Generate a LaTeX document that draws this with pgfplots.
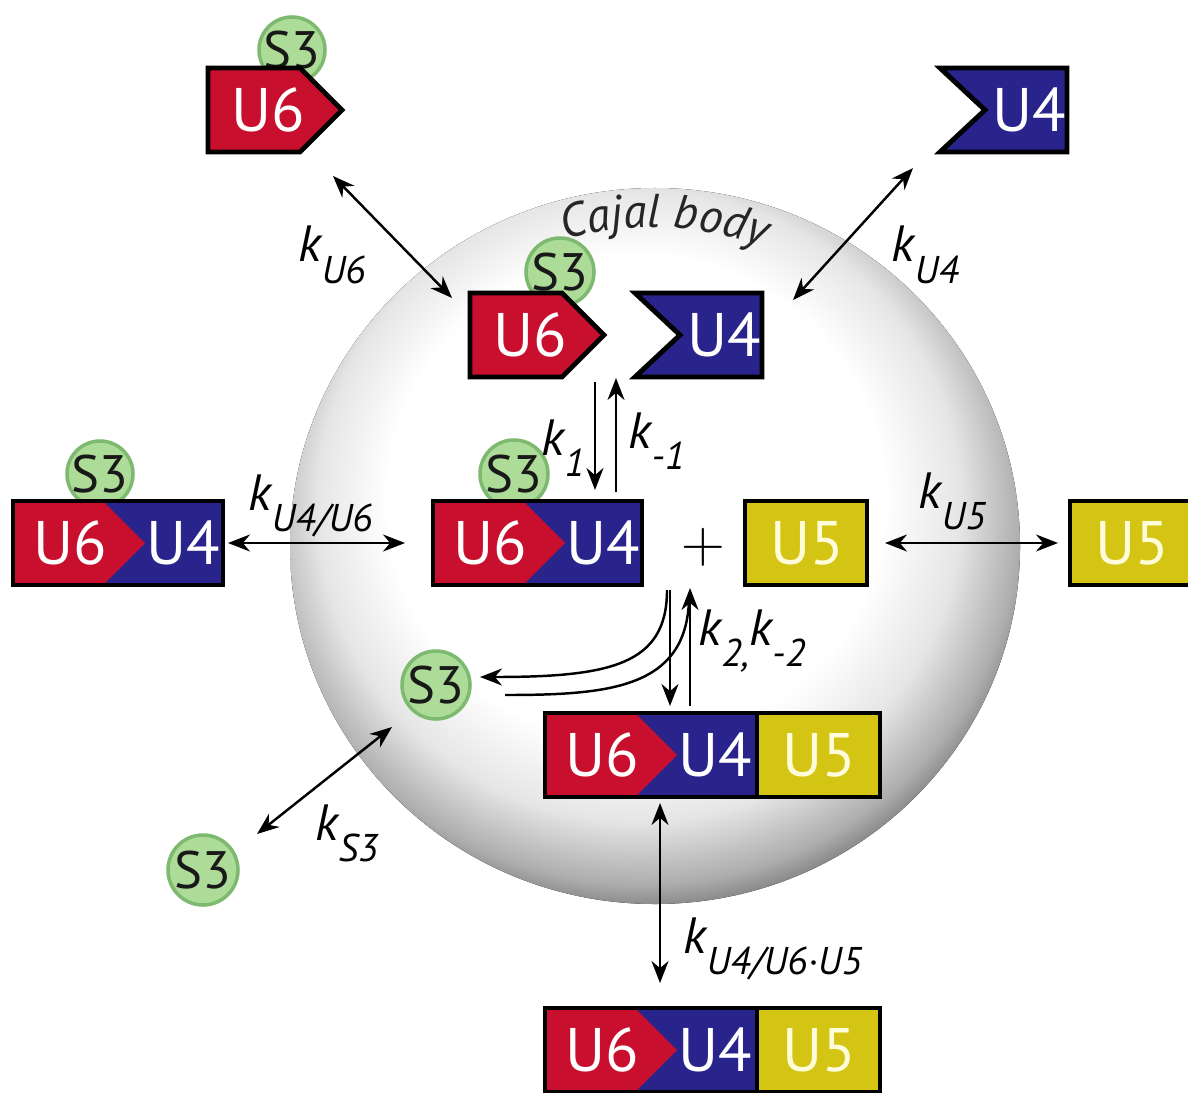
\documentclass[border=0pt]{standalone}
\usepackage{pgfplots}
\pgfplotsset{compat=1.18}
\usepackage{fontspec}
\setmainfont{PT Sans}
\usetikzlibrary{arrows.meta,decorations.text}

\definecolor{ured}{RGB}{200,16,46}
\definecolor{ublue}{RGB}{40,36,140}
\definecolor{uyel}{RGB}{212,196,20}
\definecolor{sgreen}{RGB}{172,220,152}
\definecolor{sedge}{RGB}{125,185,110}

% path edge sits at about 30bp of the shading
\pgfdeclareradialshading{cajal}{\pgfpoint{-2bp}{5bp}}{color(0bp)=(white); color(17bp)=(white); color(22bp)=(black!10); color(26bp)=(black!32); color(29bp)=(black!62); color(30.5bp)=(black!85); color(50bp)=(black!88)}

\tikzset{
  box/.style={draw=black, line width=1.4pt, line join=miter},
  ulab/.style={text=white, inner sep=0, font=\fontsize{17.5}{18}\selectfont},
  klab/.style={anchor=base west, inner sep=0, font=\itshape\fontsize{14.5}{15}\selectfont},
  arr/.style={line width=0.7pt, -{Stealth[length=2.2mm,width=1.7mm]}},
  darr/.style={line width=0.7pt, {Stealth[length=2.2mm,width=1.7mm]}-{Stealth[length=2.2mm,width=1.7mm]}}
}
\newcommand{\ksub}[1]{k\raisebox{-6pt}{\fontsize{11}{11}\selectfont #1}}

% S3 circle: x, y, radius (mm)
\newcommand{\sthree}[3]{%
  \draw[sedge, fill=sgreen, line width=1pt] (axis cs:#1,#2) circle[radius=#3mm];
  \node[inner sep=0, text=black!90, font=\fontsize{15}{15}\selectfont] at (axis cs:#1,#2) {S3};}
% free U6: top-left x, y
\newcommand{\usix}[2]{%
  \filldraw[box, fill=ured] (axis cs:#1,#2) -- (axis cs:#1+92,#2) -- (axis cs:#1+134,#2+42)
    -- (axis cs:#1+92,#2+84) -- (axis cs:#1,#2+84) -- cycle;
  \node[ulab] at (axis cs:#1+60,#2+42) {U6};}
% free U4: outer left x, y, right x
\newcommand{\ufour}[3]{%
  \filldraw[box, fill=ublue] (axis cs:#1,#2) -- (axis cs:#3,#2) -- (axis cs:#3,#2+84)
    -- (axis cs:#1,#2+84) -- (axis cs:#1+45,#2+42) -- cycle;
  \node[ulab] at (axis cs:#3-38,#2+42) {U4};}
% U5 box: left x, y, right x
\newcommand{\ufive}[3]{%
  \filldraw[box, fill=uyel] (axis cs:#1,#2) rectangle (axis cs:#3,#2+84);
  \node[ulab, text=white!85!yellow] at (axis cs:#1+62,#2+42) {U5};}
% U6/U4 complex: left x, y, right x
\newcommand{\cplx}[3]{%
  \fill[ublue] (axis cs:#1,#2) rectangle (axis cs:#3,#2+84);
  \fill[ured] (axis cs:#1,#2) -- (axis cs:#1+90,#2) -- (axis cs:#1+132,#2+42)
    -- (axis cs:#1+90,#2+84) -- (axis cs:#1,#2+84) -- cycle;
  \draw[box] (axis cs:#1,#2) rectangle (axis cs:#3,#2+84);
  \node[ulab] at (axis cs:#1+57,#2+42) {U6};
  \node[ulab] at (axis cs:#1+170,#2+42) {U4};}

\begin{document}
\begin{tikzpicture}
\begin{axis}[
  width=11.88cm, height=10.92cm, scale only axis,
  xmin=0, xmax=1188, ymin=0, ymax=1092, y dir=reverse,
  hide axis, clip=false]

% Cajal body
\fill[shading=cajal] (axis cs:655,546) ellipse[x radius=36.5mm, y radius=35.8mm];
\path[decorate, decoration={text along path, text align=center,
  text={|\itshape\fontsize{13.5}{14}\selectfont\color{black!85}|Cajal body}}]
  (axis cs:494,270) arc[start angle=120, end angle=56, radius=3.19cm];

% S3 circles (behind the snRNPs)
\sthree{292}{50}{3.3}
\sthree{560}{272}{3.4}
\sthree{100}{474}{3.3}
\sthree{514}{474}{3.4}
\sthree{436}{685}{3.4}
\sthree{203}{870}{3.5}

% snRNPs
\usix{208}{68}
\ufour{940}{68}{1067}
\usix{470}{293}
\ufour{635}{293}{762}
\cplx{13}{501}{223}
\cplx{433}{501}{642}
\ufive{745}{501}{867}
\ufive{1070}{501}{1192}
\cplx{545}{713}{757}
\ufive{757}{713}{880}
\draw[box] (axis cs:545,713) rectangle (axis cs:880,797);
\cplx{545}{1008}{757}
\ufive{757}{1008}{880}
\draw[box] (axis cs:545,1008) rectangle (axis cs:880,1092);
\node[inner sep=0, font=\fontsize{18}{18}\selectfont] at (axis cs:703,547) {$+$};

% arrows
\draw[darr] (axis cs:333,176) -- (axis cs:452,298);
\draw[darr] (axis cs:913,168) -- (axis cs:793,300);
\draw[arr] (axis cs:595,382) -- (axis cs:595,490);
\draw[arr] (axis cs:616,492) -- (axis cs:616,378);
\draw[darr] (axis cs:228,543) -- (axis cs:405,543);
\draw[darr] (axis cs:885,543) -- (axis cs:1058,543);
\draw[arr] (axis cs:670,590) -- (axis cs:670,706);
\draw[arr] (axis cs:690,706) -- (axis cs:690,588);
\draw[arr] (axis cs:667,590) .. controls (axis cs:667,665) and (axis cs:610,677) .. (axis cs:480,677);
\draw[line width=0.7pt] (axis cs:689,600) .. controls (axis cs:686,688) and (axis cs:610,695) .. (axis cs:505,695);
\draw[darr] (axis cs:392,727) -- (axis cs:257,834);
\draw[darr] (axis cs:660,803) -- (axis cs:660,983);

% rate constants
\node[klab] at (axis cs:298,262) {\ksub{U6}};
\node[klab] at (axis cs:891,262) {\ksub{U4}};
\node[klab] at (axis cs:541,455) {\ksub{1}};
\node[klab] at (axis cs:628,448) {\ksub{-1}};
\node[klab] at (axis cs:248,510) {\ksub{U4/U6}};
\node[klab] at (axis cs:918,508) {\ksub{U5}};
\node[klab] at (axis cs:698,645) {\ksub{2,}\ksub{-2}};
\node[klab] at (axis cs:315,840) {\ksub{S3}};
\node[klab] at (axis cs:683,953) {\ksub{U4/U6·U5}};
\end{axis}
\pgfresetboundingbox
\path (current axis.south west) rectangle (current axis.north east);
\end{tikzpicture}
\end{document}
